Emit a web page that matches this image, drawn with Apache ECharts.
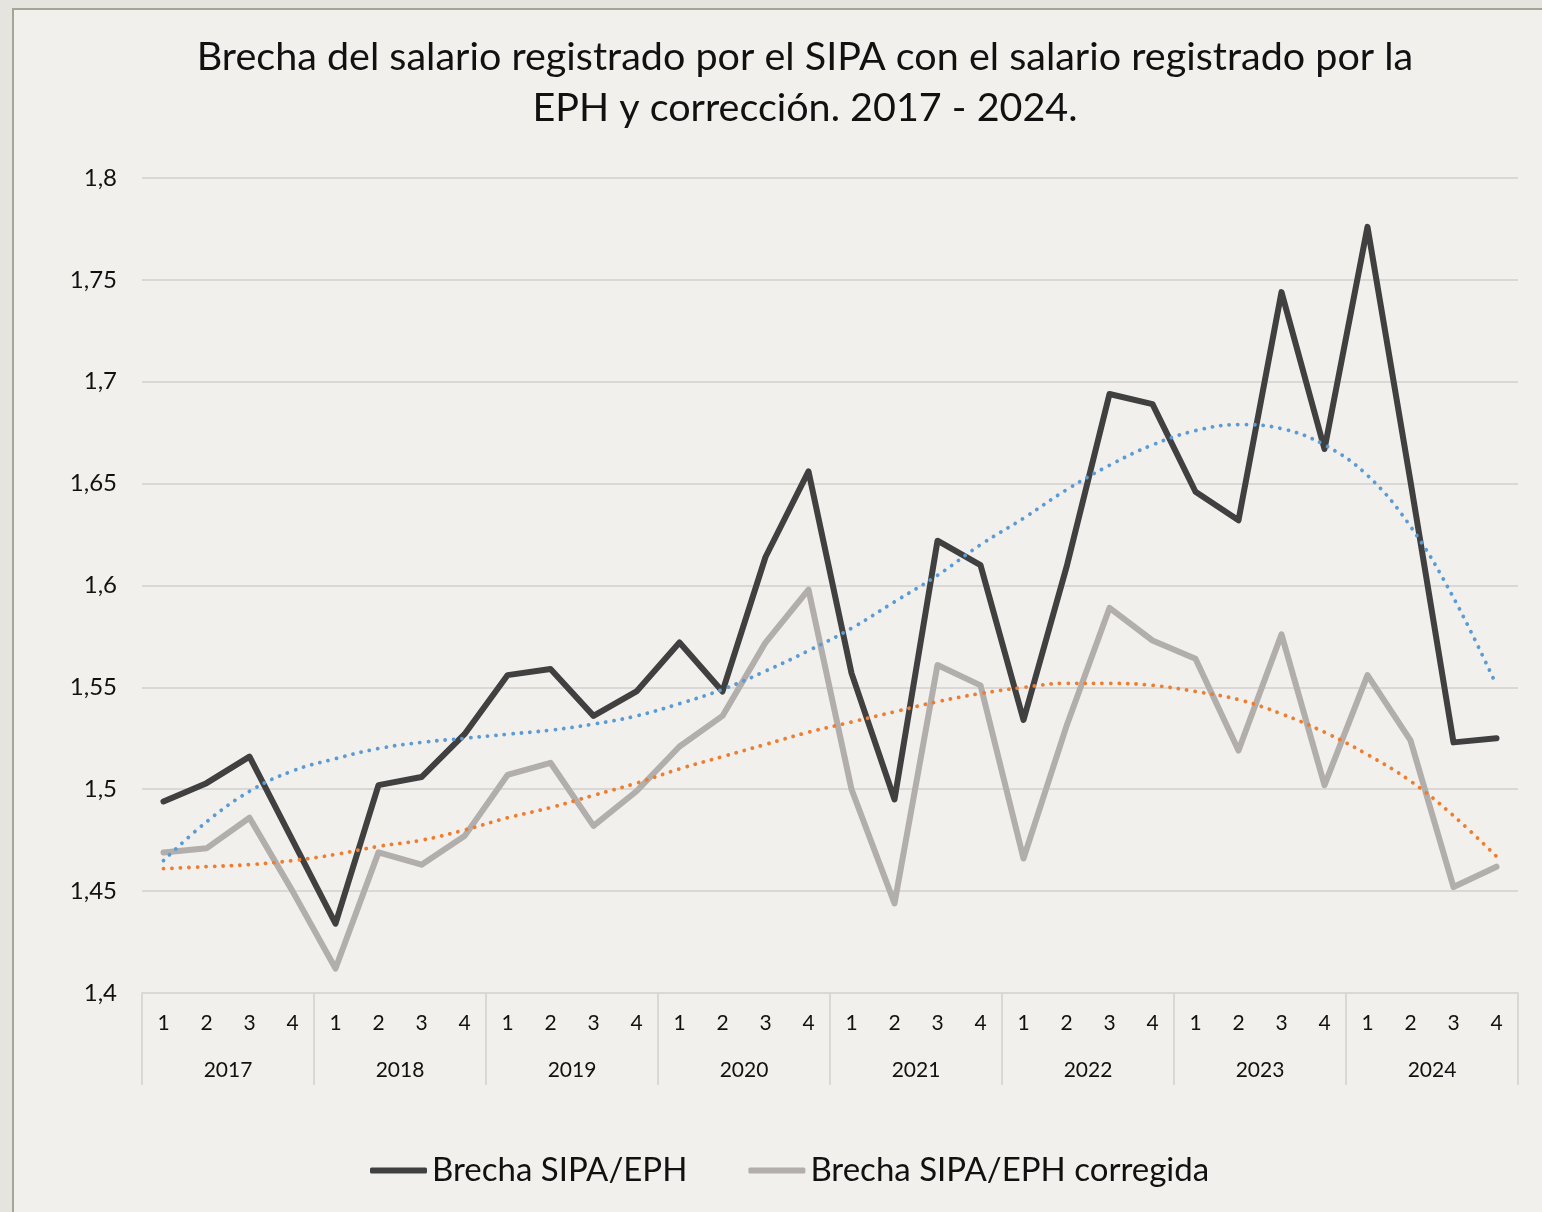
<!DOCTYPE html>
<html>
<head>
<meta charset="utf-8">
<script src="https://cdn.jsdelivr.net/npm/echarts@6/dist/echarts.min.js"></script>
<style>
	html, body {
		margin: 0;
		padding: 0;
		width: 1542px;
		height: 1212px;
		overflow: hidden;
		background: #e6e4df;
	}
	.panel {
		position: absolute;
		left: 12px;
		top: 8px;
		width: 1540px;
		height: 1210px;
		box-sizing: border-box;
		border-left: 2px solid #a3a693;
		border-top: 2px solid #a3a693;
		background: #f1f0ec;
	}
	#chart {
		position: absolute;
		left: 0;
		top: 0;
		width: 1542px;
		height: 1212px;
	}
</style>
</head>
<body>
<div class="panel"></div>
<div id="chart"></div>
<script>
// años y trimestres del eje X
const years = ['2017', '2018', '2019', '2020', '2021', '2022', '2023', '2024'];
const quarters = ['1', '2', '3', '4'];

// Brecha SIPA/EPH
const brecha = [
	1.494, 1.503, 1.516, 1.475, 1.434, 1.502, 1.506, 1.527,
	1.556, 1.559, 1.536, 1.548, 1.572, 1.548, 1.614, 1.656,
	1.557, 1.495, 1.622, 1.610, 1.534, 1.609, 1.694, 1.689,
	1.646, 1.632, 1.744, 1.667, 1.776, 1.651, 1.523, 1.525,
];

// Brecha SIPA/EPH corregida
const brechaCorregida = [
	1.469, 1.471, 1.486, 1.450, 1.412, 1.469, 1.463, 1.477,
	1.507, 1.513, 1.482, 1.499, 1.521, 1.536, 1.572, 1.598,
	1.500, 1.444, 1.561, 1.551, 1.466, 1.531, 1.589, 1.573,
	1.564, 1.519, 1.576, 1.502, 1.556, 1.524, 1.452, 1.462,
];

// líneas de tendencia (punteadas)
const tendenciaBrecha = [
	1.465, 1.484, 1.499, 1.509, 1.515, 1.520, 1.523, 1.525,
	1.527, 1.529, 1.532, 1.536, 1.542, 1.549, 1.558, 1.568,
	1.579, 1.592, 1.605, 1.620, 1.633, 1.647, 1.659, 1.669,
	1.676, 1.679, 1.677, 1.669, 1.654, 1.629, 1.594, 1.551,
];
const tendenciaCorregida = [
	1.461, 1.462, 1.463, 1.465, 1.468, 1.472, 1.475, 1.480,
	1.486, 1.491, 1.497, 1.503, 1.510, 1.516, 1.522, 1.528,
	1.533, 1.538, 1.543, 1.547, 1.550, 1.552, 1.552, 1.551,
	1.548, 1.544, 1.537, 1.528, 1.517, 1.504, 1.487, 1.467,
];

const categories = [];
for (const y of years) {
	for (const q of quarters) {
		categories.push(y + '|' + q);
	}
}

const font = 'Lato, "Noto Sans", sans-serif';
const gridColor = '#dad8d7';

const myChart = echarts.init(document.getElementById('chart'), null, { renderer: 'canvas' });
const option = {
	backgroundColor: 'transparent',
	animation: false,
	textStyle: { fontFamily: font, color: '#111' },
	title: {
		text: 'Brecha del salario registrado por el SIPA con el salario registrado por la\nEPH y corrección. 2017 - 2024.',
		left: 805,
		textAlign: 'center',
		top: 32,
		padding: 0,
		textStyle: {
			fontFamily: font,
			fontSize: 39.5,
			fontWeight: 'normal',
			color: '#111',
			lineHeight: 51,
		},
	},
	legend: {
		data: ['Brecha SIPA/EPH', 'Brecha SIPA/EPH corregida'],
		left: 370,
		top: 1154,
		padding: 0,
		icon: 'roundRect',
		itemWidth: 57,
		itemHeight: 6,
		itemGap: 61,
		textStyle: { fontFamily: font, fontSize: 33, color: '#111' },
	},
	grid: {
		left: 142,
		right: 24,
		top: 178,
		bottom: 219,
	},
	xAxis: [
		{
			type: 'category',
			data: categories,
			boundaryGap: true,
			axisLine: { show: true, lineStyle: { color: gridColor, width: 2 } },
			axisTick: { show: false },
			axisLabel: {
				interval: 0,
				margin: 20,
				fontFamily: font,
				fontSize: 21,
				color: '#111',
				formatter: (v) => v.split('|')[1],
			},
		},
		{
			type: 'category',
			data: years,
			position: 'bottom',
			boundaryGap: true,
			axisLine: { show: false },
			axisTick: {
				show: true,
				interval: 0,
				length: 92,
				lineStyle: { color: gridColor, width: 2 },
			},
			axisLabel: {
				interval: 0,
				margin: 67,
				fontFamily: font,
				fontSize: 21,
				color: '#111',
			},
		},
	],
	yAxis: {
		type: 'value',
		min: 1.4,
		max: 1.8,
		interval: 0.05,
		axisLine: { show: false },
		axisTick: { show: false },
		splitLine: { lineStyle: { color: gridColor, width: 2 } },
		axisLabel: {
			margin: 25,
			fontFamily: font,
			fontSize: 24,
			color: '#111',
			formatter: (v) => String(Math.round(v * 100) / 100).replace('.', ','),
		},
	},
	series: [
		{
			name: 'Brecha SIPA/EPH',
			type: 'line',
			data: brecha,
			symbol: 'none',
			color: '#404040',
			lineStyle: { color: '#404040', width: 6, cap: 'round', join: 'round' },
		},
		{
			name: 'Brecha SIPA/EPH corregida',
			type: 'line',
			data: brechaCorregida,
			symbol: 'none',
			color: '#b1aeac',
			lineStyle: { color: '#b1aeac', width: 6, cap: 'round', join: 'round' },
		},
		{
			name: 'Tendencia brecha',
			type: 'line',
			data: tendenciaBrecha,
			symbol: 'none',
			smooth: 0.4,
			silent: true,
			lineStyle: { color: '#5b9bd5', width: 3.8, type: [0.1, 8.4], cap: 'round' },
		},
		{
			name: 'Tendencia corregida',
			type: 'line',
			data: tendenciaCorregida,
			symbol: 'none',
			smooth: 0.4,
			silent: true,
			lineStyle: { color: '#ed7d31', width: 3.8, type: [0.1, 8.4], cap: 'round' },
		},
	],
};
myChart.setOption(option);
</script>
</body>
</html>
